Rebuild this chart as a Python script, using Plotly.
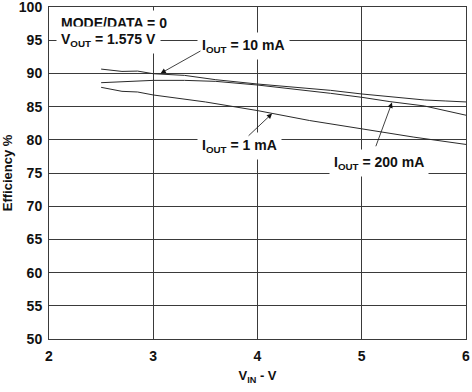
import plotly.graph_objects as go

# Data (V_IN in volts, efficiency in %)
vin_10ma = [2.5, 2.7, 2.85, 3.0, 3.3, 3.6, 4.0, 4.4, 4.7, 5.0, 5.27, 5.6, 5.8, 6.0]
eff_10ma = [90.65, 90.3, 90.35, 89.95, 89.7, 89.05, 88.4, 87.9, 87.45, 86.9, 86.45, 86.0, 85.85, 85.7]

vin_200ma = [2.5, 2.8, 3.0, 3.3, 3.6, 4.0, 4.5, 4.7, 5.0, 5.27, 5.6, 5.8, 6.0]
eff_200ma = [88.6, 88.8, 88.95, 88.95, 88.8, 88.25, 87.4, 87.0, 86.4, 85.75, 85.1, 84.4, 83.7]

vin_1ma = [2.5, 2.7, 2.85, 3.0, 3.5, 4.0, 4.5, 5.0, 5.5, 6.0]
eff_1ma = [87.9, 87.3, 87.2, 86.75, 85.7, 84.4, 82.9, 81.6, 80.4, 79.3]

x_ticks = [2, 3, 4, 5, 6]
y_ticks = [50, 55, 60, 65, 70, 75, 80, 85, 90, 95, 100]

FONT = "Liberation Sans, Arial, sans-serif"
LINE_COLOR = "#2a2a2a"
GRID_COLOR = "#3a3a3a"

fig = go.Figure()
for xs, ys in [(vin_10ma, eff_10ma), (vin_200ma, eff_200ma), (vin_1ma, eff_1ma)]:
    fig.add_trace(go.Scatter(x=xs, y=ys, mode="lines",
                             line=dict(color=LINE_COLOR, width=1),
                             showlegend=False, hoverinfo="skip"))

txt_font = dict(family=FONT, size=14, color="#111111")

def label(text, x, y):
    fig.add_annotation(x=x, y=y, xref="x", yref="y", text="<b>" + text + "</b>",
                       showarrow=False, xanchor="left", yanchor="middle",
                       font=txt_font, bgcolor="white", borderpad=4)

def arrow(x, y, ax, ay):
    fig.add_annotation(x=x, y=y, ax=ax, ay=ay, xref="x", yref="y",
                       axref="x", ayref="y", text="", showarrow=True,
                       arrowhead=2, arrowsize=1.3, arrowwidth=0.8,
                       arrowcolor="#111111", standoff=0)

label("MODE/DATA = 0", 2.07, 97.6)
label("V<sub>OUT</sub> = 1.575 V", 2.07, 95.0)
label("I<sub>OUT</sub> = 10 mA", 3.42, 94.2)
label("I<sub>OUT</sub> = 1 mA", 3.42, 79.1)
label("I<sub>OUT</sub> = 200 mA", 4.69, 76.5)

arrow(3.07, 90.0, 3.467, 93.5)
arrow(4.14, 83.95, 3.90, 80.4)
arrow(5.29, 85.6, 5.13, 78.8)

axis_common = dict(showgrid=True, gridcolor=GRID_COLOR, gridwidth=1,
                   showline=True, linecolor=GRID_COLOR, linewidth=1, mirror=True,
                   zeroline=False, ticks="", automargin=False,
                   ticklabeloverflow="allow",
                   tickfont=dict(family=FONT, size=14, color="#111111"))

fig.update_xaxes(range=[2, 6], tickvals=x_ticks, ticktext=[f"<b>{v}</b>" for v in x_ticks],
                 title=dict(text="<b>V<sub>IN</sub> - V</b>", font=dict(family=FONT, size=13, color="#111111"),
                            standoff=8),
                 ticklabelstandoff=4, **axis_common)
fig.update_yaxes(range=[50, 100], tickvals=y_ticks, ticktext=[f"<b>{v}</b>" for v in y_ticks],
                 title=dict(text="<b>Efficiency %</b>", font=dict(family=FONT, size=13, color="#111111"),
                            standoff=9),
                 ticklabelstandoff=3, **axis_common)

fig.update_layout(width=472, height=392, margin=dict(l=49, r=6, t=7, b=53, autoexpand=False),
                  plot_bgcolor="white", paper_bgcolor="white")

fig.write_html("out.html", config={"displayModeBar": False},
               post_script="document.body.style.margin='0';document.body.style.overflow='hidden';")
